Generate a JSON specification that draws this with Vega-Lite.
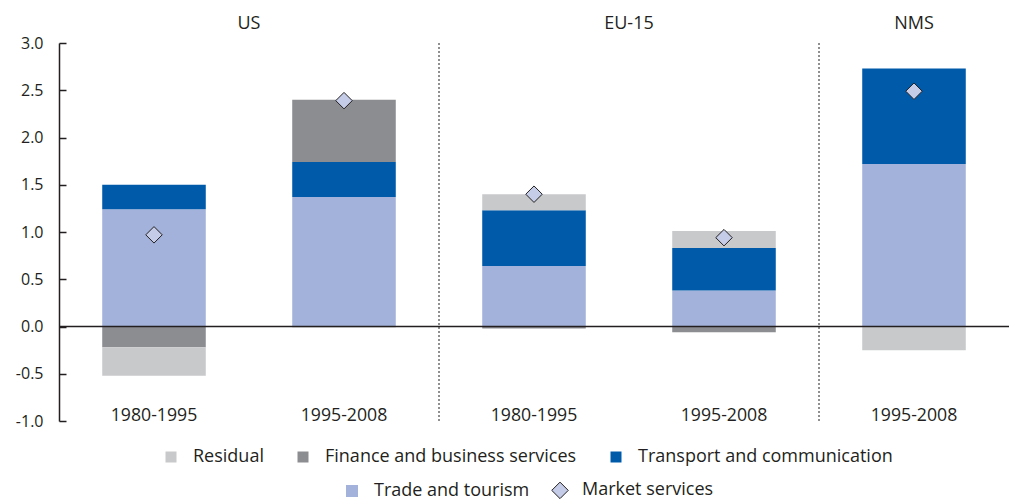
{
  "$schema": "https://vega.github.io/schema/vega-lite/v6.json",
  "width": 950,
  "height": 378,
  "autosize": {"type": "none"},
  "padding": {"left": 59, "top": 43, "right": 1, "bottom": 79},
  "background": "white",
  "config": {"view": {"stroke": null}, "font": "Open Sans", "axis": {"grid": false}},
  "datasets": {
    "bars": [
      {"bar": "US 1980-1995", "component": "Trade and tourism", "value": 1.24},
      {"bar": "US 1980-1995", "component": "Transport and communication", "value": 0.26},
      {"bar": "US 1980-1995", "component": "Finance and business services", "value": -0.22},
      {"bar": "US 1980-1995", "component": "Residual", "value": -0.30},
      {"bar": "US 1995-2008", "component": "Trade and tourism", "value": 1.37},
      {"bar": "US 1995-2008", "component": "Transport and communication", "value": 0.37},
      {"bar": "US 1995-2008", "component": "Finance and business services", "value": 0.66},
      {"bar": "US 1995-2008", "component": "Residual", "value": -0.01},
      {"bar": "EU-15 1980-1995", "component": "Trade and tourism", "value": 0.64},
      {"bar": "EU-15 1980-1995", "component": "Transport and communication", "value": 0.59},
      {"bar": "EU-15 1980-1995", "component": "Finance and business services", "value": -0.02},
      {"bar": "EU-15 1980-1995", "component": "Residual", "value": 0.17},
      {"bar": "EU-15 1995-2008", "component": "Trade and tourism", "value": 0.38},
      {"bar": "EU-15 1995-2008", "component": "Transport and communication", "value": 0.45},
      {"bar": "EU-15 1995-2008", "component": "Finance and business services", "value": -0.06},
      {"bar": "EU-15 1995-2008", "component": "Residual", "value": 0.18},
      {"bar": "NMS 1995-2008", "component": "Trade and tourism", "value": 1.72},
      {"bar": "NMS 1995-2008", "component": "Transport and communication", "value": 1.01},
      {"bar": "NMS 1995-2008", "component": "Finance and business services", "value": 0.0},
      {"bar": "NMS 1995-2008", "component": "Residual", "value": -0.25}
    ],
    "market": [
      {"bar": "US 1980-1995", "series": "Market services", "value": 0.97},
      {"bar": "US 1995-2008", "series": "Market services", "value": 2.39},
      {"bar": "EU-15 1980-1995", "series": "Market services", "value": 1.40},
      {"bar": "EU-15 1995-2008", "series": "Market services", "value": 0.94},
      {"bar": "NMS 1995-2008", "series": "Market services", "value": 2.49}
    ]
  },
  "layer": [
    {
      "data": {"name": "bars"},
      "transform": [
        {"calculate": "indexof(['Trade and tourism','Transport and communication','Finance and business services','Residual'], datum.component)", "as": "ord"}
      ],
      "mark": {"type": "bar", "width": {"band": 0.545}},
      "encoding": {
        "x": {
          "field": "bar", "type": "nominal",
          "scale": {"domain": ["US 1980-1995", "US 1995-2008", "EU-15 1980-1995", "EU-15 1995-2008", "NMS 1995-2008"], "paddingInner": 0, "paddingOuter": 0},
          "axis": {"title": null, "domain": false, "ticks": false, "labelExpr": "slice(datum.label, -9)", "labelFontSize": 17.7, "labelColor": "#231f20", "labelPadding": -6, "labelBaseline": "middle", "labelAngle": 0}
        },
        "y": {
          "field": "value", "type": "quantitative", "stack": "zero",
          "scale": {"domain": [-1, 3], "nice": false},
          "axis": {"title": null, "values": [-1, -0.5, 0, 0.5, 1, 1.5, 2, 2.5, 3], "labelExpr": "replace(format(datum.value, '.1f'), '\u2212', '-')", "domainColor": "#231f20", "domainWidth": 1.5, "tickColor": "#231f20", "tickWidth": 1.5, "tickSize": -7, "labelPadding": 23, "labelFontSize": 16, "labelColor": "#231f20"}
        },
        "fill": {
          "field": "component", "type": "nominal",
          "scale": {"domain": ["Residual", "Finance and business services", "Transport and communication", "Trade and tourism"], "range": ["#c8c9cb", "#8c8d91", "#005aaa", "#a3b2da"]},
          "legend": {"values": ["Residual", "Finance and business services", "Transport and communication"], "orient": "none", "legendX": 103, "legendY": 405, "direction": "horizontal", "title": null, "symbolType": "square", "symbolSize": 121, "symbolStrokeWidth": 0, "labelFontSize": 18, "labelColor": "#231f20", "labelOffset": 13, "labelLimit": 500, "columnPadding": 30, "padding": 0}
        },
        "order": {"field": "ord", "type": "quantitative"}
      }
    },
    {
      "data": {"values": [{}]},
      "mark": {"type": "rule", "stroke": "#231f20", "strokeWidth": 1.5},
      "encoding": {"y": {"datum": 0}}
    },
    {
      "data": {"values": [{"bar": "US 1995-2008"}, {"bar": "EU-15 1995-2008"}]},
      "mark": {"type": "rule", "stroke": "#231f20", "strokeWidth": 1, "strokeDash": [2, 2]},
      "encoding": {
        "x": {"field": "bar", "type": "nominal", "bandPosition": 1}
      }
    },
    {
      "data": {"name": "market"},
      "mark": {"type": "point", "filled": true, "strokeWidth": 1, "opacity": 1},
      "encoding": {
        "x": {"field": "bar", "type": "nominal"},
        "y": {"field": "value", "type": "quantitative"},
        "color": {
          "field": "series", "type": "nominal",
          "scale": {"domain": ["Trade and tourism", "Market services"], "range": ["#a3b2da", "#c5cce8"]},
          "legend": {"orient": "none", "legendX": 284, "legendY": 438, "direction": "horizontal", "title": null, "labelFontSize": 18, "labelColor": "#231f20", "labelOffset": 13, "labelLimit": 500, "columnPadding": 19, "padding": 0, "symbolStrokeWidth": 1}
        },
        "shape": {
          "field": "series", "type": "nominal",
          "scale": {"domain": ["Trade and tourism", "Market services"], "range": ["square", "diamond"]},
          "legend": {"orient": "none", "legendX": 284, "legendY": 438, "direction": "horizontal", "title": null, "labelFontSize": 18, "labelColor": "#231f20", "labelOffset": 13, "labelLimit": 500, "columnPadding": 19, "padding": 0, "symbolStrokeWidth": 1}
        },
        "stroke": {
          "field": "series", "type": "nominal",
          "scale": {"domain": ["Trade and tourism", "Market services"], "range": ["transparent", "#231f20"]},
          "legend": {"orient": "none", "legendX": 284, "legendY": 438, "direction": "horizontal", "title": null, "labelFontSize": 18, "labelColor": "#231f20", "labelOffset": 13, "labelLimit": 500, "columnPadding": 19, "padding": 0, "symbolStrokeWidth": 1}
        },
        "size": {
          "field": "series", "type": "nominal",
          "scale": {"domain": ["Trade and tourism", "Market services"], "range": [144, 272]},
          "legend": {"orient": "none", "legendX": 284, "legendY": 438, "direction": "horizontal", "title": null, "labelFontSize": 18, "labelColor": "#231f20", "labelOffset": 13, "labelLimit": 500, "columnPadding": 19, "padding": 0, "symbolStrokeWidth": 1}
        }
      }
    },
    {
      "data": {"values": [{"bar": "US 1995-2008", "label": "US"}, {"bar": "EU-15 1995-2008", "label": "EU-15"}]},
      "mark": {"type": "text", "fontSize": 18, "color": "#231f20", "baseline": "middle", "align": "center", "dy": -19},
      "encoding": {
        "x": {"field": "bar", "type": "nominal", "bandPosition": 0},
        "y": {"datum": 3},
        "text": {"field": "label"}
      }
    },
    {
      "data": {"values": [{"bar": "NMS 1995-2008", "label": "NMS"}]},
      "mark": {"type": "text", "fontSize": 18, "color": "#231f20", "baseline": "middle", "align": "center", "dy": -19},
      "encoding": {
        "x": {"field": "bar", "type": "nominal"},
        "y": {"datum": 3},
        "text": {"field": "label"}
      }
    }
  ]
}
